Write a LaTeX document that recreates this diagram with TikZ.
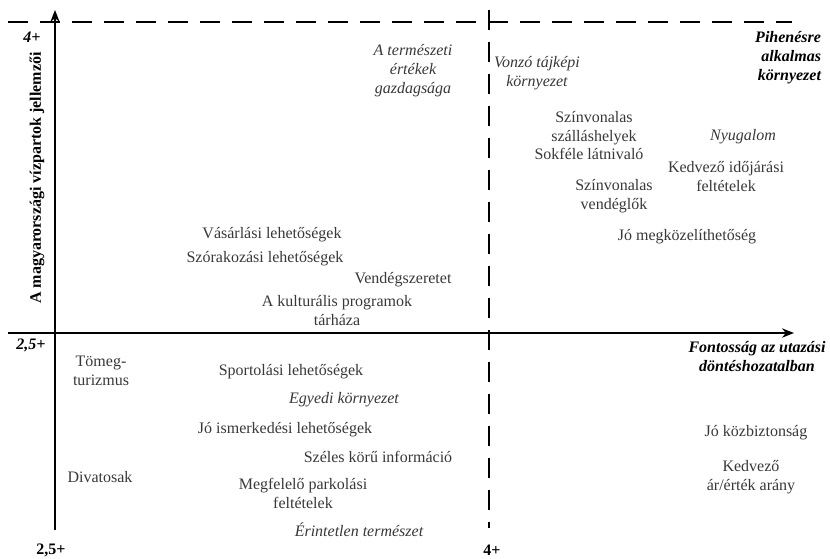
\documentclass[tikz,border=0pt]{standalone}
\usepackage{fontspec}
\setmainfont{Liberation Serif}
\usetikzlibrary{arrows.meta}
\begin{document}
\begin{tikzpicture}[x=0.75pt, y=-0.75pt, line width=1.5pt, >={Stealth[length=9pt,width=7pt]},
        main/.style = {align=center, inner sep=0pt, text=black!78, font=\fontsize{12}{14.25}\selectfont},
        soft/.style = {main, font=\fontsize{12}{14.25}\selectfont\itshape},
        key/.style = {main, text=black, font=\fontsize{12}{14.25}\selectfont\bfseries\itshape},
        tick/.style = {main, text=black, font=\fontsize{12}{14.25}\selectfont\bfseries},
        split/.style = {line width=2pt, dash pattern=on 15pt off 9pt}]
    \useasboundingbox (0,0) rectangle (830,558);
    % axes and borders
    \coordinate (o) at (55,530);
    \coordinate (top) at (55,10);
    \coordinate (left) at (8,333);
    \coordinate (right) at (794,333);
    \coordinate (d1) at (8,22);
    \coordinate (d2) at (792,22);
    \coordinate (v1) at (489,10);
    \coordinate (v2) at (489,528);
    \draw[->] (o) -- (top);
    \draw[->] (left) -- (right);
    \draw[split] (d1) -- (d2);
    \draw[split] (v1) -- (v2);
    % scale marks and axis titles
    \node[key] (y4) at (32,37) {4+};
    \node[key] (y25) at (31,345) {2,5+};
    \node[tick] (x25) at (51,550) {2,5+};
    \node[tick] (x4) at (492,550) {4+};
    \node[tick, rotate=90] (ylab) at (37,178) {A magyarországi vízpartok jellemzői};
    \node[key] (xlab) at (757,357) {Fontosság az utazási\\döntéshozatalban};
    \node[key, align=right, anchor=east] (rest) at (822,58) {Pihenésre\\alkalmas\\környezet};
    % upper left
    \node[soft] (nat) at (413,71) {A természeti\\értékek\\gazdagsága};
    \node[main] (shop) at (272,235) {Vásárlási lehetőségek};
    \node[main] (fun) at (265,259) {Szórakozási lehetőségek};
    \node[main] (host) at (403,280) {Vendégszeretet};
    \node[main] (cult) at (337,311) {A kulturális programok\\tárháza};
    % upper right
    \node[soft] (view) at (537,73) {Vonzó tájképi\\környezet};
    \node[main] (stay) at (594,128) {Színvonalas\\szálláshelyek};
    \node[main] (sight) at (589,154) {Sokféle látnivaló};
    \node[soft] (calm) at (743,137) {Nyugalom};
    \node[main] (wthr) at (726,177) {Kedvező időjárási\\feltételek};
    \node[main] (food) at (614,196) {Színvonalas\\vendéglők};
    \node[main] (reach) at (687,237) {Jó megközelíthetőség};
    % lower left
    \node[main] (mass) at (101,371) {Tömeg-\\turizmus};
    \node[main] (sport) at (291,372) {Sportolási lehetőségek};
    \node[soft] (uniq) at (344,400) {Egyedi környezet};
    \node[main] (meet) at (285,430) {Jó ismerkedési lehetőségek};
    \node[main] (info) at (378,457) {Széles körű információ};
    \node[main] (trend) at (100,477) {Divatosak};
    \node[main] (park) at (303,493) {Megfelelő parkolási\\feltételek};
    \node[soft] (wild) at (359,530) {Érintetlen természet};
    % lower right
    \node[main] (safe) at (756,433) {Jó közbiztonság};
    \node[main] (price) at (751,477) {Kedvező\\ár/érték arány};
\end{tikzpicture}
\end{document}
